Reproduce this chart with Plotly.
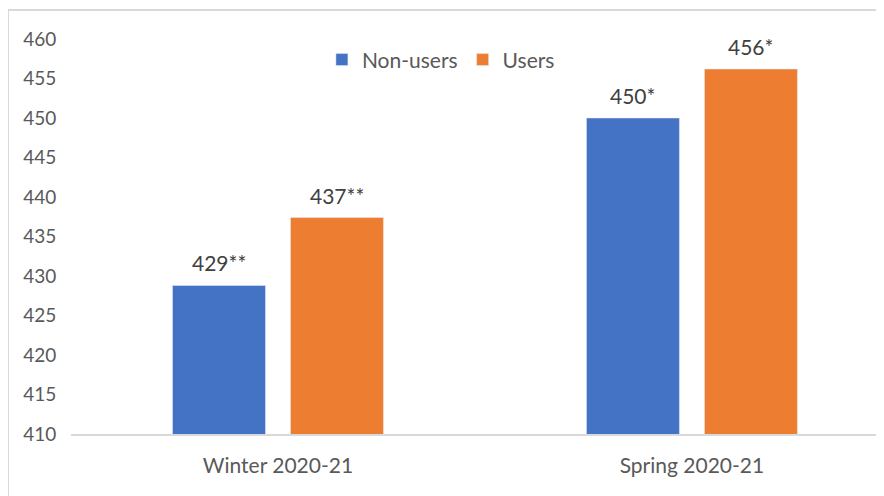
import plotly.graph_objects as go

categories = ["Winter 2020-21", "Spring 2020-21"]
non_users = [428.8, 450.0]
users = [437.4, 456.2]
non_users_labels = ["429**", "450*"]
users_labels = ["437**", "456*"]
y_ticks = [410, 415, 420, 425, 430, 435, 440, 445, 450, 455, 460]

FONT = "Lato, Carlito, Calibri, sans-serif"
BLUE = "#4472C4"
ORANGE = "#ED7D31"

fig = go.Figure()
fig.add_trace(go.Bar(name="Non-users", x=categories, y=non_users,
                     marker_color=BLUE, offsetgroup="a"))
fig.add_trace(go.Bar(name="Users", x=categories, y=users,
                     marker_color=ORANGE, offsetgroup="b"))

# data labels as annotations, positioned over each bar's group slot
slot = (1 - 0.43) / 2  # width of one bar slot in category units
annotations = []
for i, cat in enumerate(categories):
    for j, (vals, labs) in enumerate([(non_users, non_users_labels), (users, users_labels)]):
        annotations.append(dict(
            x=i + (j - 0.5) * slot, y=vals[i], xref="x", yref="y",
            text=labs[i], showarrow=False, yanchor="bottom", yshift=8,
            font=dict(size=21, color="#404040", family=FONT),
        ))

fig.update_layout(
    width=884, height=496,
    margin=dict(l=63, r=8, t=31, b=70),
    paper_bgcolor="white", plot_bgcolor="white",
    barmode="group", bargap=0.43, bargroupgap=0.212,
    font=dict(family=FONT, size=19, color="#595959"),
    showlegend=True,
    legend=dict(orientation="h", x=0.455, y=0.947, xanchor="center", yanchor="middle",
                font=dict(size=21, color="#595959"), bgcolor="rgba(0,0,0,0)",
                itemwidth=30, traceorder="normal"),
    xaxis=dict(range=[-0.5, 1.464], showgrid=False,
               tickvals=[0, 1], ticktext=categories,
               showline=True, linecolor="#d9d9d9", linewidth=2,
               ticks="outside", ticklen=12, tickcolor="rgba(0,0,0,0)",
               tickfont=dict(size=21, color="#595959")),
    yaxis=dict(range=[410, 460], tickvals=y_ticks, showgrid=False,
               zeroline=False, showline=False,
               ticks="outside", ticklen=10, tickcolor="rgba(0,0,0,0)",
               tickfont=dict(size=19, color="#595959")),
    annotations=annotations,
    shapes=[dict(type="rect", xref="paper", yref="paper",
                 x0=-63/813, x1=1.05, y0=-0.2, y1=(434-10)/395,
                 line=dict(color="#d9d9d9", width=2), fillcolor="rgba(0,0,0,0)",
                 layer="below")],
)

fig.write_html("out.html")
